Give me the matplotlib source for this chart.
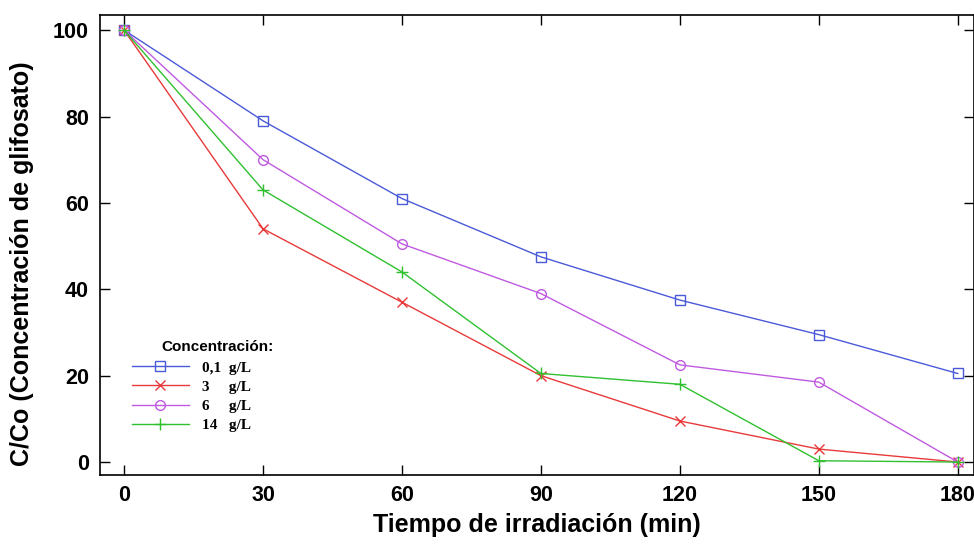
import matplotlib
matplotlib.use("Agg")
import matplotlib.pyplot as plt

tiempo = [0, 30, 60, 90, 120, 150, 180]
c_01 = [100, 79, 61, 47.5, 37.5, 29.5, 20.5]
c_3 = [100, 54, 37, 20, 9.5, 3, 0]
c_6 = [100, 70, 50.5, 39, 22.5, 18.5, 0]
c_14 = [100, 63, 44, 20.5, 18, 0.3, 0]
labels = ["0,1  g/L", "3     g/L", "6     g/L", "14   g/L"]
legend_title = "Concentración:"
xticks = [0, 30, 60, 90, 120, 150, 180]
yticks = [0, 20, 40, 60, 80, 100]

plt.rcParams['font.family'] = ['Liberation Sans', 'DejaVu Sans']
fig = plt.figure(figsize=(9.74, 5.46), dpi=100)
ax = fig.add_axes([100/974, 71/546, 874/974, 460/546])

ax.plot(tiempo, c_01, color='#4a5ad8', lw=1, marker='s', ms=6.5, mfc='none', mew=1, label=labels[0])
ax.plot(tiempo, c_3, color='#e83a3a', lw=1, marker='x', ms=6.5, mew=1, label=labels[1])
ax.plot(tiempo, c_6, color='#c05ae0', lw=1, marker='o', ms=7, mfc='none', mew=1, label=labels[2])
ax.plot(tiempo, c_14, color='#30c030', lw=1, marker='+', ms=8, mew=1, label=labels[3])

ax.set_xlim(-5.2, 183.5)
ax.set_ylim(-3.0, 103.5)
ax.set_xticks(xticks)
ax.set_yticks(yticks)
ax.tick_params(direction='in', top=True, right=True, length=7, width=1, labelsize=15.5)
ax.tick_params(axis='x', pad=7)
ax.tick_params(axis='y', pad=8)
for lab in ax.get_xticklabels() + ax.get_yticklabels():
    lab.set_fontweight('bold')
for s in ax.spines.values():
    s.set_linewidth(1.2)

ax.set_xlabel("Tiempo de irradiación (min)", fontsize=18, fontweight='bold', labelpad=5)
ax.set_ylabel("C/Co (Concentración de glifosato)", fontsize=18, fontweight='bold', labelpad=10)
ax.yaxis.set_label_coords(-0.0755, 0.46)

leg = ax.legend(loc='upper left', bbox_to_anchor=(0.0366, 0.248), frameon=False,
                handlelength=3.7, labelspacing=0.36, borderpad=0, borderaxespad=0,
                handletextpad=0.9,
                prop={'family': 'Liberation Serif', 'weight': 'bold', 'size': 11})
ax.text(0.134, 0.278, legend_title, transform=ax.transAxes, ha='center', va='center',
        fontsize=11, fontweight='bold')

fig.savefig("out.png", dpi=100)
